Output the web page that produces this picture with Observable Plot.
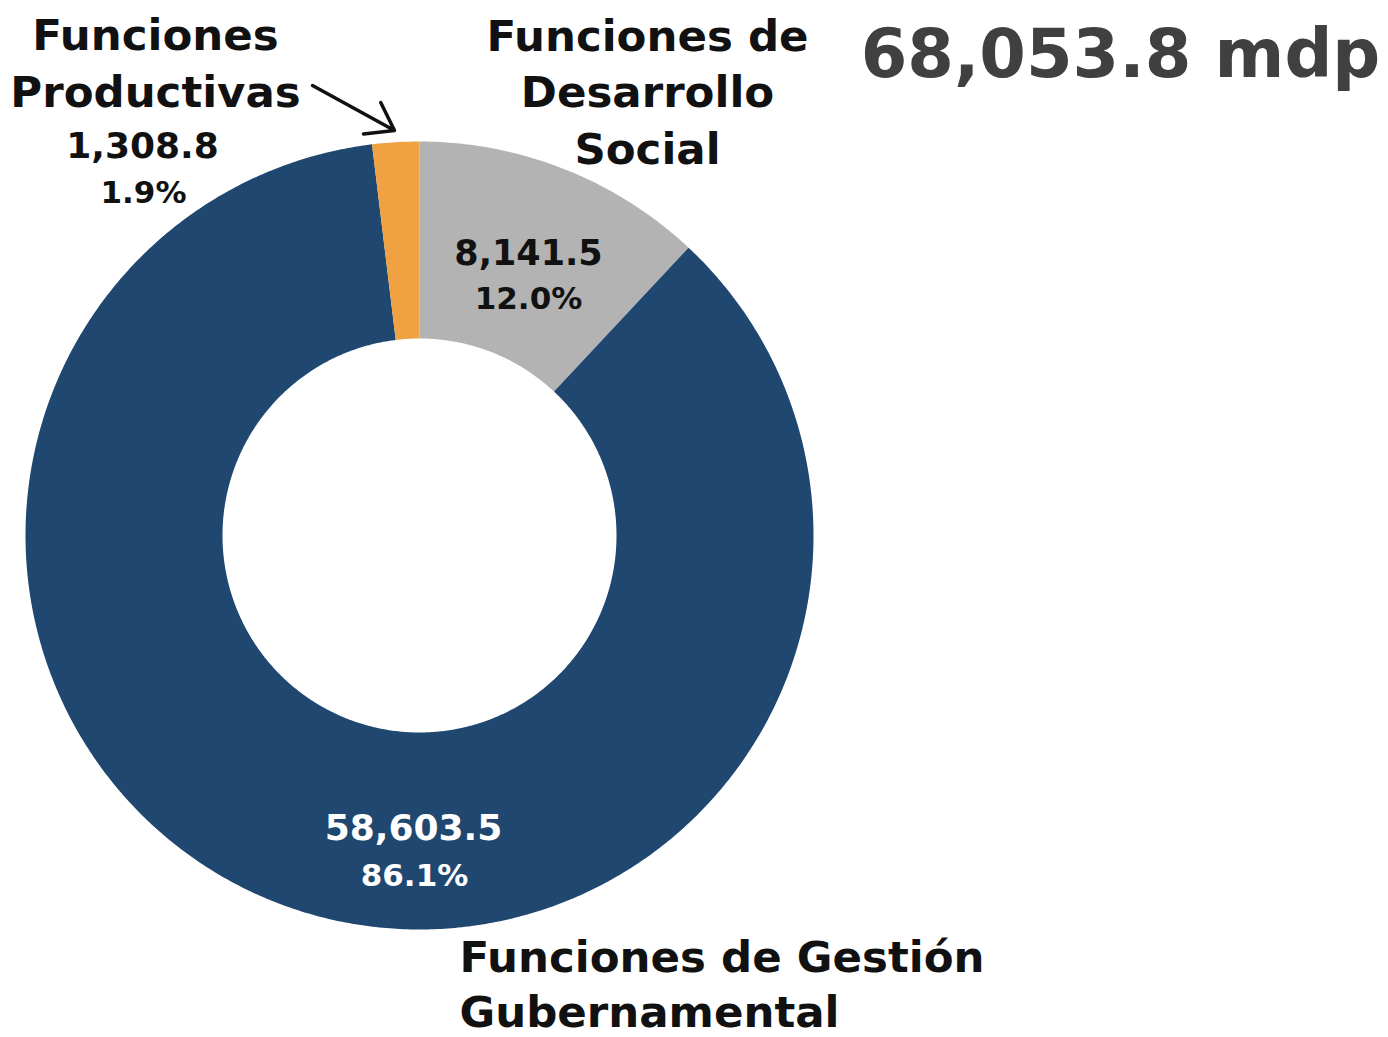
<!DOCTYPE html>
<html>
<head>
<meta charset="utf-8">
<script src="https://cdn.jsdelivr.net/npm/d3@7"></script>
<script src="https://cdn.jsdelivr.net/npm/@observablehq/plot@0.6"></script>
<style>
  html, body { margin: 0; padding: 0; background: #ffffff; }
  #chart svg { display: block; }
</style>
</head>
<body>
<div id="chart"></div>
<script>
// ---- Data ----
const categories = ["Funciones de Desarrollo Social", "Funciones de Gestión Gubernamental", "Funciones Productivas"];
const values = [8141.5, 58603.5, 1308.8];
const colors = ["#b3b3b3", "#1f4770", "#f0a142"];
const totalLabel = "68,053.8 mdp";

// ---- Layout constants ----
const W = 1388, H = 1037;
const cx = 419, cy = 535;          // donut centre in pixels
const rOuter = 394, rInner = 197;
const font = "DejaVu Sans";

const total = d3.sum(values);
const fmtVal = d3.format(",.1f");
const fmtPct = d3.format(".1%");

// pie angles (clockwise from 12 o'clock)
const arcs = d3.pie().sort(null).value(d => d)(values);

// polygon points for each slice, in coordinates relative to the centre (y down)
const polyPts = [];
arcs.forEach((a, i) => {
  const n = Math.max(4, Math.ceil((a.endAngle - a.startAngle) / (Math.PI / 360)));
  const pts = [];
  for (let k = 0; k <= n; k++) {
    const t = a.startAngle + (a.endAngle - a.startAngle) * k / n;
    pts.push({x: rOuter * Math.sin(t), y: -rOuter * Math.cos(t)});
  }
  for (let k = n; k >= 0; k--) {
    const t = a.startAngle + (a.endAngle - a.startAngle) * k / n;
    pts.push({x: rInner * Math.sin(t), y: -rInner * Math.cos(t)});
  }
  pts.forEach(p => polyPts.push({...p, cat: categories[i]}));
});

// annotation placement (pixel positions relative to centre)
const P = (px, py) => ({x: px - cx, y: py - cy});
const valueLabels = [
  {...P(528, 253), text: fmtVal(values[0]), fill: "#111", size: 35},
  {...P(528, 299), text: fmtPct(values[0] / total), fill: "#111", size: 31},
  {...P(413, 828), text: fmtVal(values[1]), fill: "#ffffff", size: 36},
  {...P(414, 876), text: fmtPct(values[1] / total), fill: "#ffffff", size: 31},
  {...P(142, 146), text: fmtVal(values[2]), fill: "#111", size: 36},
  {...P(143, 193), text: fmtPct(values[2] / total), fill: "#111", size: 31}
];
const nameLabels = [
  {...P(155, 60), text: "Funciones\nProductivas", anchor: "middle"},
  {...P(647, 89), text: "Funciones de\nDesarrollo\nSocial", anchor: "middle"},
  {...P(459, 981), text: "Funciones de Gestión\nGubernamental", anchor: "start"}
];
const arrowData = [{...(() => { const a = P(312, 85), b = P(394, 130); return {x1: a.x, y1: a.y, x2: b.x, y2: b.y}; })()}];

const chart = Plot.plot({
  width: W,
  height: H,
  margin: 0,
  style: {fontFamily: font, background: "#ffffff"},
  x: {domain: [-cx, W - cx], range: [0, W], axis: null},
  y: {domain: [-cy, H - cy], range: [0, H], axis: null},
  color: {domain: categories, range: colors},
  marks: [
    Plot.line(polyPts, {x: "x", y: "y", z: "cat", fill: "cat", stroke: "none", curve: "linear"}),
    Plot.text(valueLabels, {
      x: "x", y: "y", text: "text", fill: d => d.fill, fontSize: d => d.size,
      fontWeight: "bold", textAnchor: "middle", lineAnchor: "middle"
    }),
    Plot.text(nameLabels.filter(d => d.anchor === "middle"), {
      x: "x", y: "y", text: "text", fill: "#111", fontSize: 43.5, fontWeight: "bold",
      textAnchor: "middle", lineAnchor: "middle", lineHeight: 1.29
    }),
    Plot.text(nameLabels.filter(d => d.anchor === "start"), {
      x: "x", y: "y", text: "text", fill: "#111", fontSize: 43.5, fontWeight: "bold",
      textAnchor: "start", lineAnchor: "middle", lineHeight: 1.27
    }),
    Plot.text([totalLabel], {
      x: () => 1120 - cx, y: () => 55 - cy, text: d => d, fill: "#404040",
      fontSize: 67, fontWeight: "bold", textAnchor: "middle", lineAnchor: "middle"
    }),
    Plot.arrow(arrowData, {
      x1: "x1", y1: "y1", x2: "x2", y2: "y2", stroke: "#111", strokeWidth: 3.5,
      headLength: 22, headAngle: 70
    })
  ]
});
document.getElementById("chart").append(chart);
</script>
</body>
</html>
